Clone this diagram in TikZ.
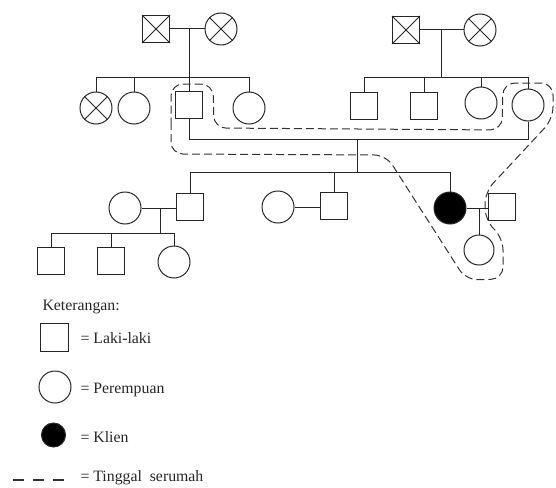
\documentclass[tikz,border=0pt]{standalone}
\usepackage{fontspec}
\setmainfont{Liberation Serif}
\begin{document}
\begin{tikzpicture}[x=1pt,y=-1pt,line width=1pt,color=black!85,
  male/.style={draw,rectangle,minimum size=27pt,inner sep=0pt},
  female/.style={draw,circle,minimum size=32pt,inner sep=0pt},
  smallfemale/.style={draw,circle,minimum size=30pt,inner sep=0pt},
  client/.style={draw,fill=black,circle,minimum size=32pt,inner sep=0pt},
  lbl/.style={anchor=base west,inner sep=0pt,font=\fontsize{15.8}{18}\selectfont,text=black!85},
  household/.style={draw=black!80,line width=1pt,dash pattern=on 8pt off 4pt,rounded corners=12pt}]
\useasboundingbox (0,0) rectangle (556,487);

% ---------- Generation I, left ----------
\node[male] (gf1) at (156,29) {};
\node[female] (gm1) at (221,29) {};
\draw (gf1.north west) -- (gf1.south east) (gf1.north east) -- (gf1.south west);
\draw (gm1.north west) -- (gm1.south east) (gm1.north east) -- (gm1.south west);
\draw (gf1) -- (gm1);
\coordinate (m1) at (189,29);
\coordinate (sib1) at (0,77);

\node[female] (c1) at (96,108) {};
\draw (c1.north west) -- (c1.south east) (c1.north east) -- (c1.south west);
\node[female] (c2) at (134,108) {};
\node[male] (fa) at (189,105) {};
\node[female] (c4) at (249,108) {};
\draw (c1.north) |- (c4.north |- sib1) -- (c4.north);
\draw (c2.north) -- (c2.north |- sib1);
\draw (m1) -- (fa.north);

% ---------- Generation I, right ----------
\node[male] (gf2) at (406,30) {};
\node[female] (gm2) at (480,30) {};
\draw (gf2.north west) -- (gf2.south east) (gf2.north east) -- (gf2.south west);
\draw (gm2.north west) -- (gm2.south east) (gm2.north east) -- (gm2.south west);
\draw (gf2) -- (gm2);
\coordinate (m2) at (441,30);

\node[male] (s1) at (364,106) {};
\node[male] (s2) at (424,106) {};
\node[female] (s3) at (481,103) {};
\node[female] (mo) at (528,105) {};
\draw (s1.north) |- (mo.north |- sib1) -- (mo.north);
\draw (s2.north) -- (s2.north |- sib1);
\draw (s3.north) -- (s3.north |- sib1);
\draw (m2) -- (m2 |- sib1);

% ---------- Parents' marriage ----------
\coordinate (mar) at (0,139);
\coordinate (m3) at (357,139);
\draw (fa.south) |- (mo.south |- mar) -- (mo.south);
\coordinate (sib2) at (0,172);
\draw (m3) -- (m3 |- sib2);

% ---------- Generation III ----------
\node[male] (so1) at (190,207) {};
\node[male] (so2) at (334,206) {};
\node[client] (kl) at (450,208) {};
\draw (so1.north) |- (kl.north |- sib2) -- (kl.north);
\draw (so2.north) -- (so2.north |- sib2);

\node[female] (w1) at (125,208) {};
\draw (w1.east) -- (w1.east -| so1.west);
\coordinate (m4) at (160,208);
\coordinate (sib3) at (0,233);
\draw (m4) -- (m4 |- sib3);

\node[female] (w2) at (278,207) {};
\draw (w2.east) -- (w2.east -| so2.west);

\node[male] (hu) at (502,207) {};
\draw (kl.east) -- (kl.east -| hu.west);
\coordinate (m5) at (479,208);

% ---------- Generation IV ----------
\node[male] (g1) at (51,261) {};
\node[male] (g2) at (111,261) {};
\node[female] (g3) at (174,262) {};
\draw (g1.north) |- (g3.north |- sib3) -- (g3.north);
\draw (g2.north) -- (g2.north |- sib3);

\node[smallfemale] (kc) at (479,250) {};
\draw (m5) -- (kc.north);

% ---------- Household boundary ----------
\draw[household] (171,110) -- (171,154) -- (386,155) -- (466,280) -- (503,279)
  -- (503,238) -- (485,220) -- (485,192) -- (553,119) -- (553,83) -- (503,83)
  -- (502,130) -- (214,128) -- (213,84) -- (171,84) -- cycle;

% ---------- Legend ----------
\node[lbl] (ket) at (42,310) {Keterangan:};
\node[male,minimum size=28pt] (lm) at (54,337) {};
\node[lbl] (tm) at (80,343) {= Laki-laki};
\node[female,minimum width=32pt,minimum height=30pt] (lf) at (55,387) {};
\node[lbl] (tf) at (80,393) {= Perempuan};
\node[client,minimum size=24pt] (lk) at (53.5,435) {};
\node[lbl] (tk) at (80,442) {= Klien};
\coordinate (ld1) at (13,480);
\coordinate (ld2) at (64,480);
\draw[draw=black!80,line width=1.2pt,dash pattern=on 11pt off 9pt] (ld1) -- (ld2);
\node[lbl] (tt) at (80,481) {= Tinggal\ \ serumah};
\end{tikzpicture}
\end{document}
